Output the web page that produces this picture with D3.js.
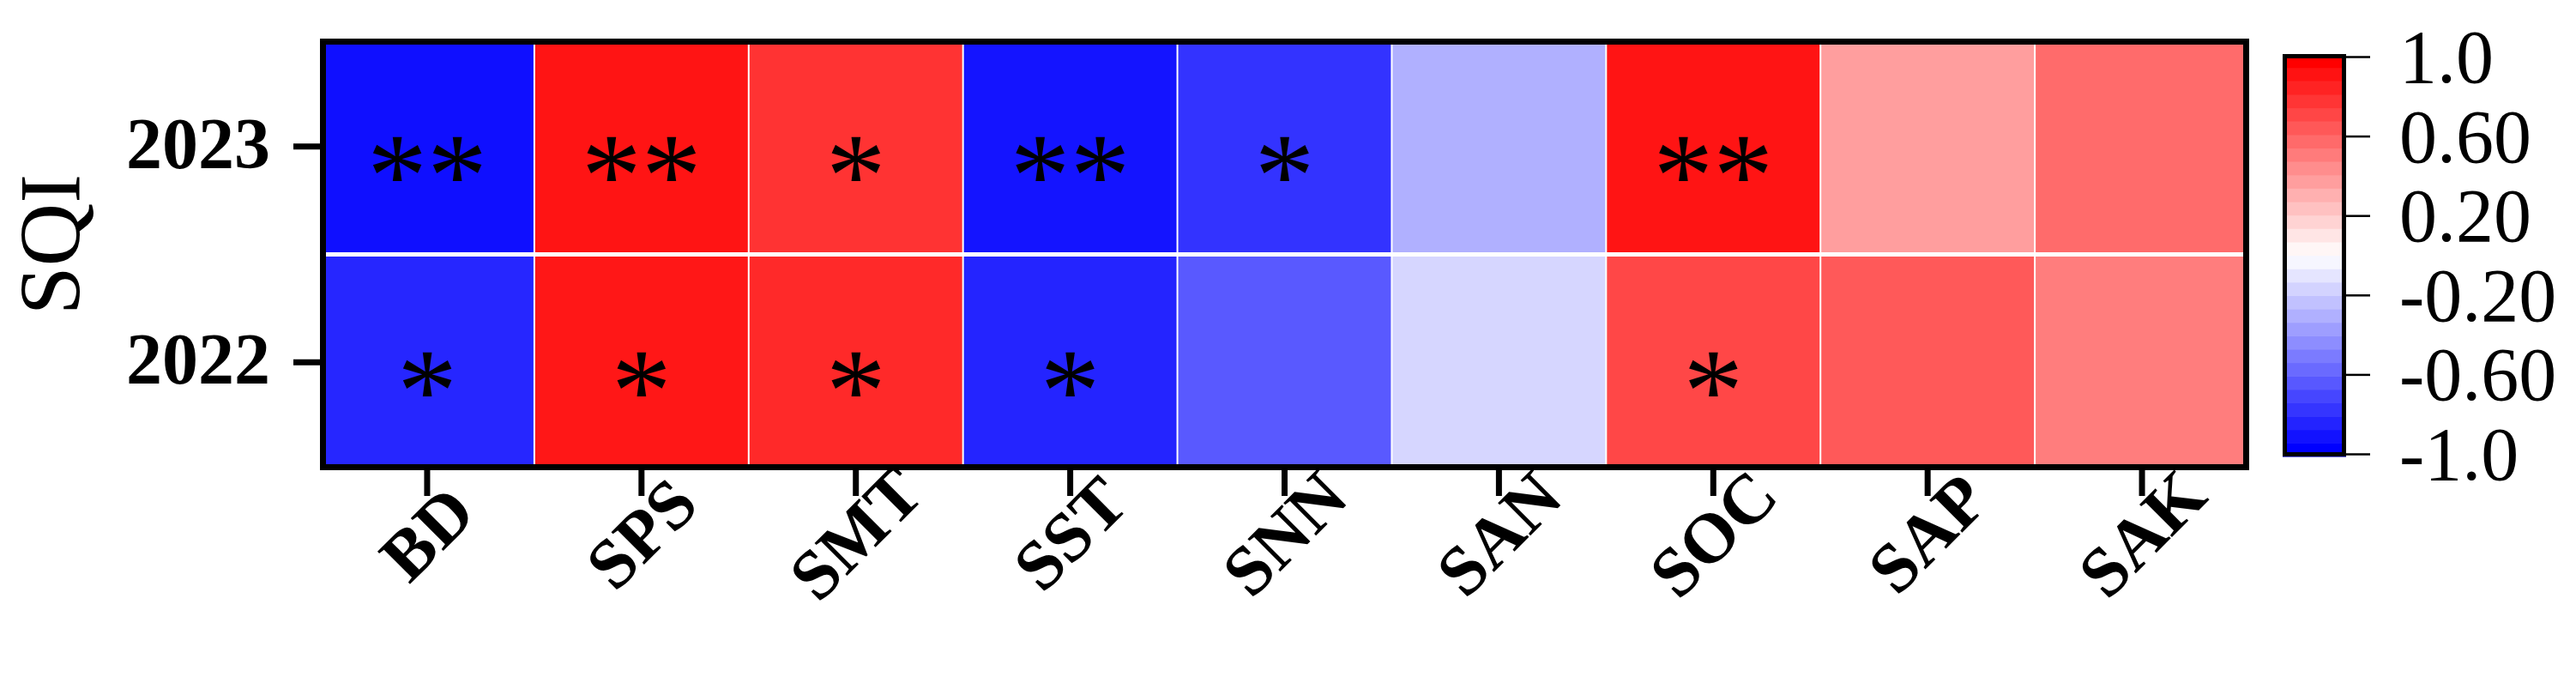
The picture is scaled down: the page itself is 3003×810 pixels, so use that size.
<!DOCTYPE html>
<html>
<head>
<meta charset="utf-8">
<script src="https://cdn.jsdelivr.net/npm/d3@7"></script>
<style>
  html, body { margin: 0; padding: 0; background: #ffffff; }
  svg { display: block; }
  text { font-family: "Liberation Serif", "Times New Roman", serif; fill: #000; }
</style>
</head>
<body>
<script>
// ---- data ----
const categories = ["BD", "SPS", "SMT", "SST", "SNN", "SAN", "SOC", "SAP", "SAK"];
const years = ["2023", "2022"];
const values2023 = [-0.94, 0.92, 0.80, -0.92, -0.80, -0.31, 0.92, 0.38, 0.58];
const values2022 = [-0.85, 0.91, 0.84, -0.86, -0.65, -0.16, 0.72, 0.65, 0.51];
const stars2023 = ["**", "**", "*", "**", "*", "", "**", "", ""];
const stars2022 = ["*", "*", "*", "*", "", "", "*", "", ""];
const legendTickValues = [1.0, 0.6, 0.2, -0.2, -0.6, -1.0];
const legendTickLabels = ["1.0", "0.60", "0.20", "-0.20", "-0.60", "-1.0"];
const yTitle = "SQI";

const W = 3003, H = 810;
const svg = d3.select("body").append("svg").attr("width", W).attr("height", H);
svg.append("rect").attr("width", W).attr("height", H).attr("fill", "#fff");

const plot = { left: 373, right: 2622, top: 45, bottom: 548 };

const x = d3.scaleBand().domain(categories).range([plot.left, plot.right]);
const y = d3.scaleBand().domain(years).range([plot.top, plot.bottom]);
const color = d3.scaleLinear().domain([-1, 0, 1]).range(["#0000ff", "#ffffff", "#ff0000"]);

const rows = [
  { year: "2023", values: values2023, stars: stars2023 },
  { year: "2022", values: values2022, stars: stars2022 }
];
const cells = [];
rows.forEach(r => categories.forEach((c, i) => cells.push({ year: r.year, cat: c, v: r.values[i], s: r.stars[i] })));

// cells
svg.append("g").selectAll("rect").data(cells).join("rect")
  .attr("x", d => x(d.cat) + 1)
  .attr("y", d => y(d.year) + 2.5)
  .attr("width", x.bandwidth() - 2)
  .attr("height", y.bandwidth() - 5)
  .attr("fill", d => color(d.v));

// stars
svg.append("g").selectAll("text").data(cells.filter(d => d.s)).join("text")
  .attr("x", d => x(d.cat) + x.bandwidth() / 2)
  .attr("y", d => y(d.year) + y.bandwidth() / 2 + 80)
  .attr("text-anchor", "middle")
  .style("font-size", "140px")
  .text(d => d.s);

// frame
svg.append("rect")
  .attr("x", plot.left + 3.5).attr("y", plot.top + 3.5)
  .attr("width", plot.right - plot.left - 7).attr("height", plot.bottom - plot.top - 7)
  .attr("fill", "none").attr("stroke", "#000").attr("stroke-width", 7);

// y axis
const yAxis = d3.axisLeft(y).tickSize(31).tickPadding(27);
const gy = svg.append("g").attr("transform", `translate(${plot.left},0)`).call(yAxis);
gy.select(".domain").remove();
gy.selectAll(".tick line").attr("stroke", "#000").attr("stroke-width", 7);
gy.selectAll(".tick text")
  .attr("dy", null).attr("y", 25)
  .style("font-size", "84px").style("font-weight", "bold")
  .style("font-family", "'Liberation Serif', 'Times New Roman', serif");

// x axis
const xAxis = d3.axisBottom(x).tickSize(30).tickPadding(0);
const gx = svg.append("g").attr("transform", `translate(0,${plot.bottom})`).call(xAxis);
gx.select(".domain").remove();
gx.selectAll(".tick line").attr("stroke", "#000").attr("stroke-width", 7);
gx.selectAll(".tick text")
  .attr("y", 0).attr("dy", null)
  .attr("transform", "translate(0,74) rotate(-45)")
  .attr("text-anchor", "middle")
  .attr("dominant-baseline", "central")
  .style("font-size", "82px").style("font-weight", "bold")
  .style("font-family", "'Liberation Serif', 'Times New Roman', serif");

// y title
svg.append("text")
  .attr("transform", "translate(93,285) rotate(-90)")
  .attr("text-anchor", "middle")
  .style("font-size", "102px")
  .text(yTitle);

// colorbar
const cb = { left: 2661, right: 2735, top: 63, bottom: 532 };
const cbScale = d3.scaleLinear().domain([-1, 1]).range([529, 66]);
const nBands = 30;
const bandVals = d3.range(nBands).map(i => -1 + i * 2 / (nBands - 1));
const bandH = (cb.bottom - cb.top) / nBands;
svg.append("g").selectAll("rect").data(bandVals).join("rect")
  .attr("x", cb.left).attr("width", cb.right - cb.left)
  .attr("y", (d, i) => cb.bottom - (i + 1) * bandH)
  .attr("height", bandH + 0.6)
  .attr("fill", d => color(d));
svg.append("rect")
  .attr("x", cb.left + 2.5).attr("y", cb.top + 2.5)
  .attr("width", cb.right - cb.left - 5).attr("height", cb.bottom - cb.top - 5)
  .attr("fill", "none").attr("stroke", "#000").attr("stroke-width", 5);

const cbAxis = d3.axisRight(cbScale).tickValues(legendTickValues)
  .tickFormat((d, i) => legendTickLabels[i]).tickSize(28).tickPadding(34);
const gc = svg.append("g").attr("transform", `translate(${cb.right},0)`).call(cbAxis);
gc.select(".domain").remove();
gc.selectAll(".tick line").attr("stroke", "#000").attr("stroke-width", 2.5);
gc.selectAll(".tick text")
  .attr("dy", null).attr("dominant-baseline", "central")
  .style("font-size", "88px")
  .style("font-family", "'Liberation Serif', 'Times New Roman', serif");
</script>
</body>
</html>
